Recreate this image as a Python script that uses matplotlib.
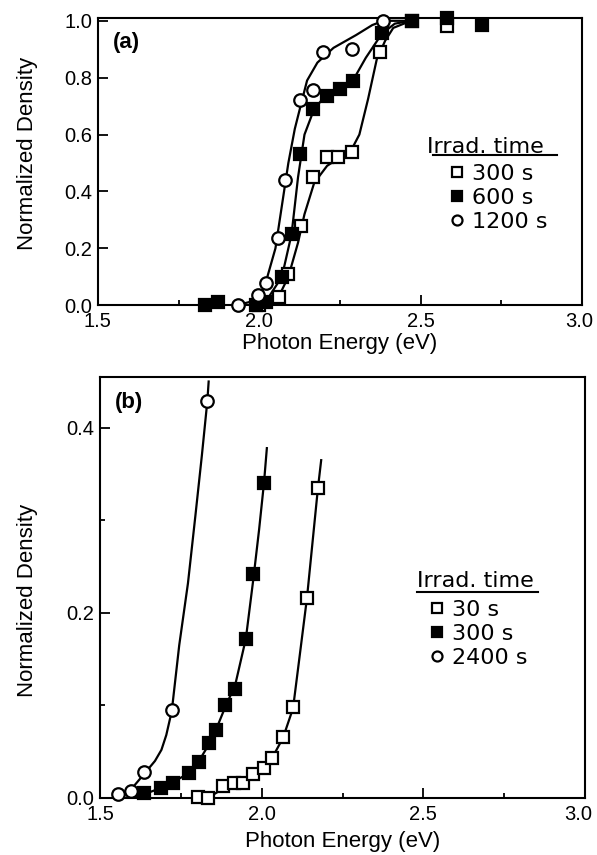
import matplotlib
matplotlib.use("Agg")
import matplotlib.pyplot as plt
from matplotlib.ticker import MultipleLocator
from matplotlib.transforms import ScaledTranslation

plt.rcParams['font.family'] = ['Liberation Sans', 'DejaVu Sans']

# ---- panel (a): measured points ----
a_300_E = [2.00, 2.06, 2.09, 2.13, 2.167, 2.21, 2.244, 2.287, 2.374, 2.473, 2.58]
a_300_D = [0.00, 0.03, 0.11, 0.28, 0.45, 0.52, 0.52, 0.54, 0.89, 1.00, 0.98]
a_600_E = [1.832, 1.872, 1.99, 2.02, 2.07, 2.10, 2.126, 2.166, 2.21, 2.25, 2.29, 2.38, 2.473, 2.58, 2.69]
a_600_D = [0.00, 0.01, 0.00, 0.01, 0.10, 0.25, 0.53, 0.69, 0.735, 0.76, 0.787, 0.958, 1.00, 1.01, 0.985]
a_1200_E = [1.934, 1.995, 2.02, 2.058, 2.08, 2.126, 2.167, 2.198, 2.287, 2.383]
a_1200_D = [0.00, 0.035, 0.077, 0.237, 0.44, 0.72, 0.755, 0.89, 0.90, 1.00]

# panel (a): hand-drawn guide curves
a_300_cE = [2.00, 2.06, 2.09, 2.12, 2.14, 2.17, 2.21, 2.25, 2.287, 2.31, 2.337, 2.364, 2.39, 2.415, 2.47]
a_300_cD = [0.00, 0.03, 0.10, 0.22, 0.32, 0.43, 0.49, 0.52, 0.55, 0.60, 0.725, 0.865, 0.93, 0.975, 1.00]
a_600_cE = [1.83, 1.99, 2.03, 2.07, 2.10, 2.12, 2.14, 2.17, 2.20, 2.25, 2.29, 2.33, 2.38, 2.42, 2.47]
a_600_cD = [0.00, 0.00, 0.03, 0.10, 0.25, 0.45, 0.60, 0.69, 0.73, 0.76, 0.79, 0.87, 0.955, 0.99, 1.00]
a_1200_cE = [1.93, 2.00, 2.02, 2.05, 2.07, 2.09, 2.11, 2.13, 2.148, 2.18, 2.23, 2.30, 2.35, 2.385, 2.47]
a_1200_cD = [0.00, 0.02, 0.08, 0.20, 0.35, 0.50, 0.62, 0.71, 0.79, 0.853, 0.905, 0.95, 0.985, 1.00, 1.00]

# ---- panel (b): measured points ----
b_30_E = [1.803, 1.834, 1.88, 1.915, 1.942, 1.973, 2.008, 2.032, 2.066, 2.097, 2.14, 2.174]
b_30_D = [0.001, 0.000, 0.013, 0.016, 0.016, 0.026, 0.032, 0.043, 0.066, 0.098, 0.216, 0.335]
b_300_E = [1.636, 1.69, 1.725, 1.776, 1.806, 1.837, 1.859, 1.887, 1.918, 1.951, 1.974, 2.007]
b_300_D = [0.005, 0.011, 0.016, 0.027, 0.039, 0.059, 0.073, 0.100, 0.118, 0.172, 0.242, 0.340]
b_2400_E = [1.556, 1.596, 1.636, 1.722, 1.832]
b_2400_D = [0.004, 0.008, 0.028, 0.095, 0.429]

# panel (b): guide curves
b_30_cE = [1.80, 1.834, 1.88, 1.94, 1.973, 2.008, 2.032, 2.066, 2.097, 2.118, 2.14, 2.174, 2.184]
b_30_cD = [0.00, 0.00, 0.01, 0.017, 0.025, 0.033, 0.043, 0.065, 0.097, 0.155, 0.216, 0.335, 0.365]
b_300_cE = [1.58, 1.636, 1.69, 1.725, 1.776, 1.806, 1.837, 1.859, 1.887, 1.918, 1.951, 1.974, 1.992, 2.007, 2.016]
b_300_cD = [0.00, 0.004, 0.011, 0.017, 0.027, 0.040, 0.058, 0.074, 0.098, 0.122, 0.172, 0.236, 0.29, 0.340, 0.378]
b_2400_cE = [1.545, 1.557, 1.593, 1.639, 1.67, 1.69, 1.705, 1.722, 1.745, 1.772, 1.795, 1.815, 1.832, 1.836]
b_2400_cD = [0.00, 0.003, 0.008, 0.027, 0.040, 0.052, 0.068, 0.094, 0.165, 0.232, 0.305, 0.370, 0.429, 0.45]

a_labels = ["300 s", "600 s", "1200 s"]
b_labels = ["30 s", "300 s", "2400 s"]

open_sq = dict(marker='s', mfc='white', mec='black', mew=1.6, ms=8.5, ls='none', zorder=4)
full_sq = dict(marker='s', mfc='black', mec='black', mew=1.6, ms=8.5, ls='none', zorder=4)
open_ci = dict(marker='o', mfc='white', mec='black', mew=1.6, ms=9, ls='none', zorder=4)
curve = dict(color='black', lw=1.6, zorder=2)


def style_axes(ax):
    for s in ax.spines.values():
        s.set_linewidth(1.5)
    ax.tick_params(which='both', direction='in', top=False, right=False, width=1.3,
                   labelsize=14.5)
    ax.tick_params(which='major', length=7)
    ax.tick_params(which='minor', length=3.5)
    ax.tick_params(axis='x', pad=5)
    ax.tick_params(axis='y', pad=4)
    ax.set_xlim(1.5, 3.0)
    ax.xaxis.set_major_locator(MultipleLocator(0.5))
    ax.xaxis.set_minor_locator(MultipleLocator(0.25))
    ax.xaxis.set_major_formatter(plt.FormatStrFormatter('%.1f'))
    ax.yaxis.set_major_formatter(plt.FormatStrFormatter('%.1f'))
    ax.set_xlabel("Photon Energy (eV)", fontsize=16)
    ax.set_ylabel("Normalized Density", fontsize=16)


def legend_block(ax, handles, labels, tx, ty, ux0, ux1, uy, lx, ly):
    ax.text(tx, ty, "Irrad. time", transform=ax.transAxes, fontsize=16,
            family='DejaVu Sans', va='baseline', ha='left')
    ax.plot([ux0, ux1], [uy, uy], transform=ax.transAxes, color='black', lw=1.5,
            clip_on=False)
    leg = ax.legend(handles, labels, loc='upper left', bbox_to_anchor=(lx, ly),
                    frameon=False, borderpad=0, borderaxespad=0, handlelength=0.8,
                    handletextpad=0.3, labelspacing=0.17, markerscale=0.8,
                    prop={'family': 'DejaVu Sans', 'size': 16})
    return leg


fig = plt.figure(figsize=(5.97, 8.55), dpi=100)
ax1 = fig.add_axes([0.164, 0.643, 0.811, 0.336])
ax2 = fig.add_axes([0.1675, 0.0667, 0.8125, 0.4925])

# panel (a)
ax1.plot(a_300_cE, a_300_cD, **curve)
ax1.plot(a_600_cE, a_600_cD, **curve)
ax1.plot(a_1200_cE, a_1200_cD, **curve)
h1 = ax1.plot(a_300_E, a_300_D, clip_on=False, **open_sq)[0]
h2 = ax1.plot(a_600_E, a_600_D, clip_on=False, **full_sq)[0]
h3 = ax1.plot(a_1200_E, a_1200_D, clip_on=False, **open_ci)[0]
style_axes(ax1)
ax1.set_ylim(0, 1.01)
ax1.yaxis.set_major_locator(MultipleLocator(0.2))
ax1.text(0.031, 0.913, "(a)", transform=ax1.transAxes, fontsize=16,
         fontweight='bold', va='center', ha='left')
legend_block(ax1, [h1, h2, h3], a_labels, 0.680, 0.530, 0.692, 0.948, 0.523,
             0.723, 0.491)
ax1.xaxis.set_label_coords(0.5, -0.098)
ax1.yaxis.set_label_coords(-0.124, 0.53)

# panel (b)
ax2.plot(b_30_cE, b_30_cD, **curve)
ax2.plot(b_300_cE, b_300_cD, **curve)
ax2.plot(b_2400_cE, b_2400_cD, **curve)
g1 = ax2.plot(b_30_E, b_30_D, clip_on=False, **open_sq)[0]
g2 = ax2.plot(b_300_E, b_300_D, clip_on=False, **full_sq)[0]
g3 = ax2.plot(b_2400_E, b_2400_D, clip_on=False, **open_ci)[0]
style_axes(ax2)
ax2.set_ylim(0, 0.455)
ax2.yaxis.set_major_locator(MultipleLocator(0.2))
ax2.yaxis.set_minor_locator(MultipleLocator(0.1))
ax2.text(0.031, 0.94, "(b)", transform=ax2.transAxes, fontsize=16,
         fontweight='bold', va='center', ha='left')
legend_block(ax2, [g1, g2, g3], b_labels, 0.654, 0.501, 0.654, 0.903, 0.489,
             0.676, 0.470)
ax2.xaxis.set_label_coords(0.5, -0.078)
ax2.yaxis.set_label_coords(-0.128, 0.47)

# nudge the right-most "3.0" labels so they stay inside the figure
fig.canvas.draw()
for ax, dx in ((ax1, -2), (ax2, -5)):
    for tick in ax.xaxis.get_major_ticks():
        if abs(tick.get_loc() - 3.0) < 1e-6:
            lab = tick.label1
            lab.set_transform(lab.get_transform() +
                              ScaledTranslation(dx / 72, 0, fig.dpi_scale_trans))

fig.savefig("out.png", dpi=100)
